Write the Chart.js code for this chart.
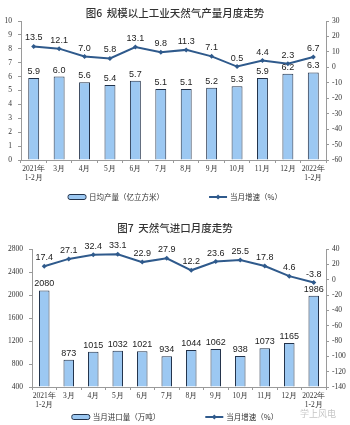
<!DOCTYPE html>
<html>
<head>
<meta charset="utf-8">
<script src="https://cdn.jsdelivr.net/npm/chart.js@4/dist/chart.umd.min.js"></script>
<style>
  html, body { margin: 0; padding: 0; background: #fff; }
  .box { position: relative; width: 350px; }
  #box-prod { height: 212px; }
  #box-import { height: 213px; }
</style>
</head>
<body>
<div class="box" id="box-prod"><canvas id="chart-prod"></canvas></div>
<div class="box" id="box-import"><canvas id="chart-import"></canvas></div>
<script>
// 月份
const months = [['2021年', '1-2月'], '3月', '4月', '5月', '6月', '7月', '8月', '9月', '10月', '11月', '12月', ['2022年', '1-2月']];

// 图6 日均产量（亿立方米）与当月增速（%）
const prodDaily = [5.9, 6.0, 5.6, 5.4, 5.7, 5.1, 5.1, 5.2, 5.3, 5.9, 6.2, 6.3];
const prodGrowth = [13.5, 12.1, 7.0, 5.8, 13.1, 9.8, 11.3, 7.1, 0.5, 4.4, 2.3, 6.7];

// 图7 当月进口量（万吨）与当月增速（%）
const importVol = [2080, 873, 1015, 1032, 1021, 934, 1044, 1062, 938, 1073, 1165, 1986];
const importGrowth = [17.4, 27.1, 32.4, 33.1, 22.9, 27.9, 12.2, 23.6, 25.5, 17.8, 4.6, -3.8];

const BAR_FILL = '#9cc8f2';
const BAR_EDGE = '#22324a';
const LINE_COLOR = '#2f5a8c';
const AXIS_COLOR = '#9a9a9a';
const TICK_FONT = { family: '"Liberation Serif", serif', size: 7.5 };

// 刻度不加千分位
const plainTick = v => String(v);

// 柱顶和折线点上的数值
const valueLabels = {
  id: 'valueLabels',
  afterDatasetsDraw(chart, args, opts) {
    const ctx = chart.ctx;
    ctx.save();
    ctx.font = '9px "Liberation Sans", Arial, sans-serif';
    ctx.fillStyle = '#222';
    ctx.textAlign = 'center';
    ctx.textBaseline = 'bottom';
    chart.data.datasets.forEach((ds, i) => {
      const meta = chart.getDatasetMeta(i);
      const dec = opts.decimals[i];
      meta.data.forEach((el, j) => {
        const off = ds.type === 'bar' ? 2 : 4;
        ctx.fillText(ds.data[j].toFixed(dec), el.x, el.y - off);
      });
    });
    ctx.restore();
  }
};

// 底部图例：柱形 + 折线
const bottomLegend = {
  id: 'bottomLegend',
  afterDraw(chart, args, opts) {
    const ctx = chart.ctx;
    const iconW = 18, gap = 45, textGap = 3;
    ctx.save();
    ctx.font = '7.5px "Noto Sans CJK SC", sans-serif';
    ctx.textBaseline = 'middle';
    const w1 = iconW + textGap + ctx.measureText(opts.barText).width;
    const w2 = iconW + textGap + ctx.measureText(opts.lineText).width;
    let x = (chart.width - (w1 + gap + w2)) / 2;
    const y = opts.y;

    // 柱形图例
    ctx.beginPath();
    ctx.roundRect(x, y - 2.5, iconW, 5, 2);
    ctx.fillStyle = BAR_FILL;
    ctx.fill();
    ctx.lineWidth = 1;
    ctx.strokeStyle = BAR_EDGE;
    ctx.stroke();
    ctx.fillStyle = '#333';
    ctx.fillText(opts.barText, x + iconW + textGap, y);

    // 折线图例
    x += w1 + gap;
    ctx.beginPath();
    ctx.moveTo(x, y);
    ctx.lineTo(x + iconW, y);
    ctx.lineWidth = 2;
    ctx.strokeStyle = LINE_COLOR;
    ctx.stroke();
    ctx.beginPath();
    const cx = x + iconW / 2;
    ctx.moveTo(cx, y - 2.5);
    ctx.lineTo(cx + 2.5, y);
    ctx.lineTo(cx, y + 2.5);
    ctx.lineTo(cx - 2.5, y);
    ctx.closePath();
    ctx.fillStyle = LINE_COLOR;
    ctx.fill();
    ctx.fillStyle = '#333';
    ctx.fillText(opts.lineText, x + iconW + textGap, y);

    // 公众号水印
    if (opts.mark) {
      ctx.font = '9px "Noto Sans CJK SC", sans-serif';
      ctx.fillStyle = 'rgba(150,150,150,0.55)';
      ctx.textAlign = 'left';
      ctx.fillText(opts.mark, 300, y - 3);
    }
    ctx.restore();
  }
};

function makeChart(id, cfg) {
  return new Chart(document.getElementById(id), {
    data: {
      labels: months,
      datasets: [
        {
          type: 'bar',
          label: cfg.barText,
          data: cfg.bars,
          yAxisID: 'y',
          base: cfg.left[0],
          backgroundColor: BAR_FILL,
          borderColor: BAR_EDGE,
          borderWidth: 1,
          categoryPercentage: 1,
          barPercentage: 0.43,
          order: 2
        },
        {
          type: 'line',
          label: cfg.lineText,
          data: cfg.growth,
          yAxisID: 'y1',
          borderColor: LINE_COLOR,
          backgroundColor: LINE_COLOR,
          borderWidth: 2,
          pointStyle: 'rectRot',
          pointRadius: 2.5,
          pointBorderWidth: 0,
          tension: 0,
          order: 1
        }
      ]
    },
    options: {
      responsive: true,
      maintainAspectRatio: false,
      animation: false,
      layout: { padding: { top: 0, bottom: cfg.padBottom, left: 0, right: 0 } },
      plugins: {
        title: {
          display: true,
          text: cfg.title,
          color: '#333',
          font: { family: '"Noto Sans CJK SC", sans-serif', size: 10.5, weight: '500' },
          padding: { top: cfg.titleTop, bottom: cfg.titleBottom }
        },
        legend: { display: false },
        tooltip: { enabled: false },
        valueLabels: { decimals: cfg.decimals },
        bottomLegend: { barText: cfg.barText, lineText: cfg.lineText, y: cfg.legendY, mark: cfg.mark }
      },
      scales: {
        x: {
          offset: true,
          grid: { display: true, offset: true, drawOnChartArea: false, drawTicks: true, tickLength: 3, color: AXIS_COLOR },
          border: { display: true, color: AXIS_COLOR },
          ticks: { color: '#333', font: TICK_FONT, padding: 2, maxRotation: 0, autoSkip: false }
        },
        y: {
          position: 'left',
          min: cfg.left[0], max: cfg.left[1],
          afterFit(scale) { scale.width = cfg.leftWidth; },
          grid: { display: true, drawOnChartArea: false, drawTicks: true, tickLength: 3, color: AXIS_COLOR },
          border: { display: true, color: AXIS_COLOR },
          ticks: { stepSize: cfg.left[2], color: '#333', font: TICK_FONT, padding: 6, callback: plainTick }
        },
        y1: {
          position: 'right',
          min: cfg.right[0], max: cfg.right[1],
          afterFit(scale) { scale.width = 24; },
          grid: { display: true, drawOnChartArea: false, drawTicks: true, tickLength: 3, color: AXIS_COLOR },
          border: { display: true, color: AXIS_COLOR },
          ticks: { stepSize: cfg.right[2], color: '#333', font: TICK_FONT, padding: 3, callback: plainTick }
        }
      }
    },
    plugins: [valueLabels, bottomLegend]
  });
}

makeChart('chart-prod', {
  title: '图6  规模以上工业天然气产量月度走势',
  barText: '日均产量（亿立方米）',
  lineText: '当月增速（%）',
  bars: prodDaily,
  growth: prodGrowth,
  left: [0, 10, 1],
  right: [-60, 30, 10],
  leftWidth: 21,
  decimals: [1, 1],
  titleTop: 6.7,
  titleBottom: 1.7,
  padBottom: 27,
  legendY: 197
});

makeChart('chart-import', {
  title: '图7  天然气进口月度走势',
  barText: '当月进口量（万吨）',
  lineText: '当月增速（%）',
  bars: importVol,
  growth: importGrowth,
  left: [400, 2800, 400],
  right: [-140, 40, 20],
  leftWidth: 32,
  decimals: [0, 1],
  titleTop: 9.7,
  titleBottom: 14.7,
  padBottom: 13,
  legendY: 205,
  mark: '学上风电'
});
</script>
</body>
</html>
